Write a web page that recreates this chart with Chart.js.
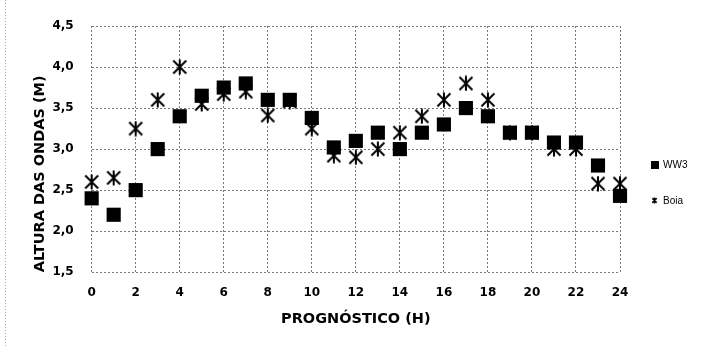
<!DOCTYPE html>
<html>
<head>
<meta charset="utf-8">
<script src="https://cdn.jsdelivr.net/npm/chart.js@4.4.0/dist/chart.umd.min.js"></script>
<style>
  html, body { margin: 0; padding: 0; background: #fff; }
  #wrap { width: 705px; height: 347px; position: relative; }
</style>
</head>
<body>
<div id="wrap"><canvas id="waveChart"></canvas></div>
<script>
// forecast hours and wave heights (m)
const hours = [0, 1, 2, 3, 4, 5, 6, 7, 8, 9, 10, 11, 12, 13, 14, 15, 16, 17, 18, 19, 20, 21, 22, 23, 24];
const ww3 = [2.4, 2.2, 2.5, 3.0, 3.4, 3.65, 3.75, 3.8, 3.6, 3.6, 3.38, 3.02, 3.1, 3.2, 3.0, 3.2, 3.3, 3.5, 3.4, 3.2, 3.2, 3.08, 3.08, 2.8, 2.43];
const boia = [2.6, 2.65, 3.25, 3.6, 4.0, 3.55, 3.67, 3.7, 3.41, 3.58, 3.25, 2.92, 2.9, 3.0, 3.2, 3.4, 3.6, 3.8, 3.6, 3.2, 3.2, 3.0, 3.0, 2.58, 2.58];
const yTicks = [1.5, 2.0, 2.5, 3.0, 3.5, 4.0, 4.5];
const xTicks = [0, 2, 4, 6, 8, 10, 12, 14, 16, 18, 20, 22, 24];
const seriesNames = ['WW3', 'Boia'];

// asterisk marker: an X with a vertical stroke through it
function makeStar(size, lw) {
    const c = document.createElement('canvas');
    c.width = size; c.height = size;
    const g = c.getContext('2d');
    const m = lw / 2 + 0.5;
    g.strokeStyle = '#000';
    g.lineWidth = lw;
    g.beginPath();
    g.moveTo(m, m); g.lineTo(size - m, size - m);
    g.moveTo(size - m, m); g.lineTo(m, size - m);
    g.moveTo(size / 2, 0.5); g.lineTo(size / 2, size - 0.5);
    g.stroke();
    return c;
}
const starBig = makeStar(16, 2);
const starSmall = makeStar(7, 1.6);

// small legend drawn at the right, like the original
const sideLegend = {
    id: 'sideLegend',
    afterDraw(chart) {
        const c = chart.ctx;
        c.save();
        c.fillStyle = '#000';
        c.fillRect(651, 161, 8, 8);
        c.drawImage(starSmall, 651, 197);
        c.font = '10px "Liberation Sans"';
        c.textBaseline = 'middle';
        c.fillText(seriesNames[0], 663, 165.5);
        c.fillText(seriesNames[1], 663, 201);
        // faint dotted frame edge of the scanned figure
        c.strokeStyle = '#aaa';
        c.lineWidth = 1;
        c.setLineDash([1, 2]);
        c.beginPath();
        c.moveTo(5.5, 0); c.lineTo(5.5, 347);
        c.stroke();
        c.restore();
    }
};

document.addEventListener('DOMContentLoaded', function() {
    const ctx = document.getElementById('waveChart').getContext('2d');
    const tickFont = { family: 'DejaVu Sans', size: 12, weight: 'bold' };
    const titleFont = { family: 'DejaVu Sans', size: 14.5, weight: 'bold' };
    const gridColor = '#777';

    new Chart(ctx, {
        type: 'scatter',
        data: {
            datasets: [{
                label: seriesNames[0],
                data: hours.map((h, i) => ({ x: h, y: ww3[i] })),
                pointStyle: 'rect',
                pointRadius: 10,
                pointHoverRadius: 10,
                backgroundColor: '#000',
                borderColor: '#000',
                borderWidth: 0,
                clip: false
            }, {
                label: seriesNames[1],
                data: hours.map((h, i) => ({ x: h, y: boia[i] })),
                pointStyle: starBig,
                backgroundColor: '#000',
                borderColor: '#000',
                clip: false
            }]
        },
        options: {
            responsive: true,
            maintainAspectRatio: false,
            animation: false,
            layout: {
                padding: { left: 32, right: 85, top: 26, bottom: 19 }
            },
            plugins: {
                legend: { display: false },
                tooltip: { enabled: false }
            },
            scales: {
                x: {
                    type: 'linear',
                    min: 0,
                    max: 24,
                    afterBuildTicks: axis => { axis.ticks = xTicks.map(v => ({ value: v })); },
                    grid: { color: gridColor, lineWidth: 1, drawTicks: true, tickLength: 11, tickColor: 'rgba(0,0,0,0)' },
                    border: { display: false, dash: [2, 2] },
                    ticks: {
                        color: '#000',
                        font: tickFont,
                        padding: 2,
                        maxRotation: 0
                    },
                    title: {
                        display: true,
                        text: 'PROGNÓSTICO (H)',
                        color: '#000',
                        font: titleFont,
                        padding: { top: 9, bottom: 0 }
                    }
                },
                y: {
                    min: 1.5,
                    max: 4.5,
                    afterBuildTicks: axis => { axis.ticks = yTicks.map(v => ({ value: v })); },
                    grid: { color: gridColor, lineWidth: 1, drawTicks: true, tickLength: 16, tickColor: 'rgba(0,0,0,0)' },
                    border: { display: false, dash: [2, 2] },
                    ticks: {
                        color: '#000',
                        font: tickFont,
                        padding: 2,
                        callback: v => v.toFixed(1).replace('.', ',')
                    },
                    title: {
                        display: true,
                        align: 'start',
                        text: 'ALTURA DAS ONDAS (M)',
                        color: '#000',
                        font: titleFont,
                        padding: { top: 0, bottom: 1 }
                    }
                }
            }
        },
        plugins: [sideLegend]
    });
});
</script>
</body>
</html>
